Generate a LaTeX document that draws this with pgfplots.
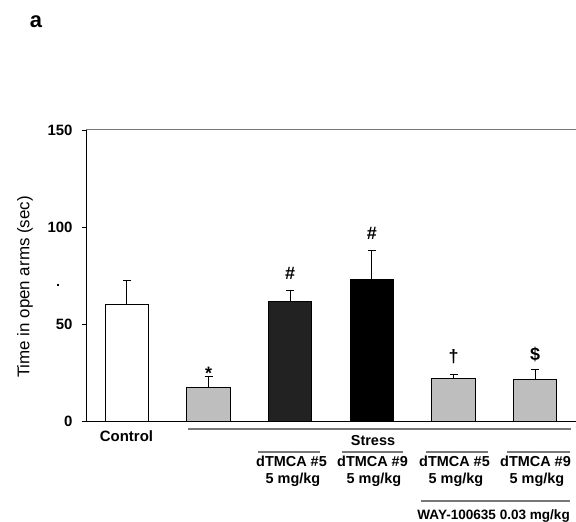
\documentclass[border=0pt]{standalone}
\usepackage{fontspec}
\setmainfont{Liberation Sans}
\usepackage{pgfplots}
\pgfplotsset{compat=1.18}
\definecolor{lgray}{RGB}{190,190,190}
\definecolor{dgray}{RGB}{34,34,34}
\definecolor{lineg}{RGB}{120,120,120}
\pgfplotsset{myerr/.style={error bars/.cd, y dir=plus, y explicit,
  error bar style={line width=1bp, black},
  error mark options={rotate=90, mark size=4bp, line width=1bp, black}}}
\newcommand{\lbl}{\bfseries\fontsize{14.5}{17}\selectfont}
\newcommand{\sym}{\bfseries\fontsize{18}{20}\selectfont}
\begin{document}
\begin{tikzpicture}[x=1bp,y=1bp]
\useasboundingbox (0,0) rectangle (576,522);
\begin{axis}[at={(86bp,100.7bp)}, anchor=south west, scale only axis,
  width=490bp, height=291.3bp,
  xmin=-0.5, xmax=5.5, ymin=0, ymax=150,
  axis x line=bottom, axis y line=left,
  axis line style={-, line width=1bp, black},
  xtick=\empty, ytick={0,50,100,150},
  tick align=outside, major tick length=4bp,
  tick style={black, line width=0.8bp},
  yticklabel style={font=\bfseries\fontsize{15}{17}\selectfont, xshift=-6bp},
  /pgf/number format/assume math mode=true,
  ybar, bar width=43.5bp, bar shift=0pt, clip=false]
\addplot[fill=white, draw=black, line width=1bp, myerr] coordinates {(0,59.9) +- (0,12.8)};
\addplot[fill=lgray, draw=black, line width=1bp, myerr] coordinates {(1,17.5) +- (0,5.8)};
\addplot[fill=dgray, draw=black, line width=1bp, myerr] coordinates {(2,61.6) +- (0,6.0)};
\addplot[fill=black, draw=black, line width=1bp, myerr] coordinates {(3,73.1) +- (0,15.1)};
\addplot[fill=lgray, draw=black, line width=1bp, myerr] coordinates {(4,21.8) +- (0,2.2)};
\addplot[fill=lgray, draw=black, line width=1bp, myerr] coordinates {(5,21.6) +- (0,5.3)};
\draw[lineg, line width=1bp] (rel axis cs:0,1) -- (rel axis cs:1,1);
\node[font=\sym, anchor=base, inner sep=0pt] at (axis cs:1,21.3) {*};
\node[font=\sym, anchor=base, inner sep=0pt] at (axis cs:2,72.8) {\#};
\node[font=\sym, anchor=base, inner sep=0pt] at (axis cs:3,93.4) {\#};
\node[font=\sym, anchor=base, inner sep=0pt] at (axis cs:4,30.5) {\textdagger};
\node[font=\sym, anchor=base, inner sep=0pt] at (axis cs:5,31.1) {\$};
\end{axis}
% labels below the axis
\node[font=\bfseries\fontsize{15}{17}\selectfont, anchor=base] at (126.5,80.3) {Control};
\draw[lineg, line width=1.2bp] (188,93) -- (571,93);
\node[font=\lbl, anchor=base] at (373,76) {Stress};
\foreach \a/\b in {258/320, 342/403, 426/488, 507/570}
  \draw[lineg, line width=1.2bp] (\a,70) -- (\b,70);
\foreach \c/\t in {291.5/5, 372.5/9, 454.5/5, 535.5/9}{
  \node[font=\lbl, anchor=base] at (\c,55.3) {dTMCA \#\t};
  \node[font=\lbl, anchor=base] at (\c+1.5,38.3) {5 mg/kg};
}
\draw[lineg, line width=1.2bp] (421,21) -- (570,21);
\node[font=\bfseries\fontsize{13.6}{16}\selectfont, anchor=base east, inner sep=0pt] at (570,2.5) {WAY-100635 0.03 mg/kg};
\node[font=\fontsize{17}{19}\selectfont, rotate=90] at (25,235) {Time in open arms (sec)};
\fill[black] (57,236) rectangle (59,238);
\node[font=\bfseries\fontsize{22}{24}\selectfont, anchor=base] at (36,494.7) {a};
\end{tikzpicture}
\end{document}
